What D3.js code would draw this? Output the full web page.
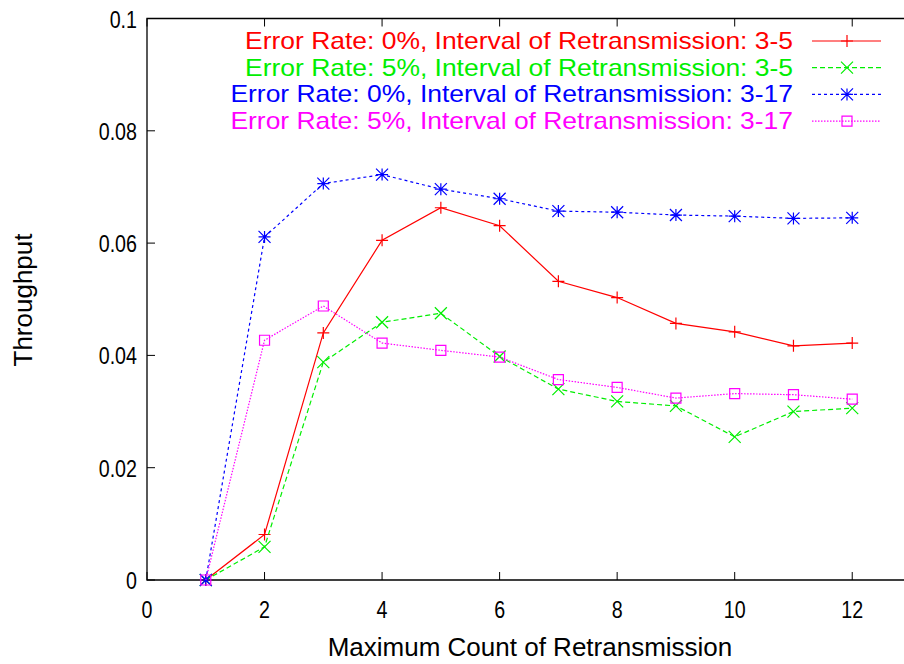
<!DOCTYPE html>
<html>
<head>
<meta charset="utf-8">
<script src="https://cdn.jsdelivr.net/npm/d3@7.9.0/dist/d3.min.js"></script>
<style>
  body { margin: 0; background: #fff; }
  svg text { font-family: "Liberation Sans", Arial, Helvetica, sans-serif; }
</style>
</head>
<body>
<svg id="chart" width="904" height="664"></svg>
<script>
// data
const counts = [1, 2, 3, 4, 5, 6, 7, 8, 9, 10, 11, 12];
const err0_int3to5  = [0, 0.0081, 0.0440, 0.0605, 0.0663, 0.0631, 0.0532, 0.0503, 0.0457, 0.0442, 0.0417, 0.0422];
const err5_int3to5  = [0, 0.0059, 0.0388, 0.0459, 0.0475, 0.0398, 0.0340, 0.0318, 0.0310, 0.0255, 0.0300, 0.0306];
const err0_int3to17 = [0, 0.0611, 0.0706, 0.0722, 0.0696, 0.0679, 0.0657, 0.0655, 0.0650, 0.0648, 0.0644, 0.0645];
const err5_int3to17 = [0, 0.0427, 0.0488, 0.0422, 0.0409, 0.0397, 0.0357, 0.0343, 0.0324, 0.0332, 0.0330, 0.0322];
const xTicks = [0, 2, 4, 6, 8, 10, 12];
const yTicks = [0, 0.02, 0.04, 0.06, 0.08, 0.1];

const series = [
  { label: 'Error Rate: 0%, Interval of Retransmission: 3-5',  values: err0_int3to5,  color: '#ff0000', dash: null,  mark: 'plus' },
  { label: 'Error Rate: 5%, Interval of Retransmission: 3-5',  values: err5_int3to5,  color: '#00ee00', dash: '5,3', mark: 'cross' },
  { label: 'Error Rate: 0%, Interval of Retransmission: 3-17', values: err0_int3to17, color: '#0000ff', dash: '3,3', mark: 'star' },
  { label: 'Error Rate: 5%, Interval of Retransmission: 3-17', values: err5_int3to17, color: '#ff00ff', dash: '1.5,1.5', mark: 'square' }
];

const svg = d3.select('#chart');
// plot runs off the right edge of the picture (x max = 13)
const x = d3.scaleLinear().domain([0, 13]).range([147, 911]);
const y = d3.scaleLinear().domain([0, 0.1]).range([580, 18.5]);

// frame
svg.append('path')
  .attr('d', `M${x(13)},${y(0.1)}H${x(0)}V${y(0)}H${x(13)}`)
  .attr('fill', 'none').attr('stroke', '#000').attr('stroke-width', 1.3);

// ticks inward + mirror on top; labels are narrow, tall digits
const tickLen = 8;
xTicks.forEach(t => {
  svg.append('line').attr('x1', x(t)).attr('x2', x(t)).attr('y1', y(0)).attr('y2', y(0) - tickLen)
    .attr('stroke', '#000');
  svg.append('line').attr('x1', x(t)).attr('x2', x(t)).attr('y1', y(0.1)).attr('y2', y(0.1) + tickLen)
    .attr('stroke', '#000');
  svg.append('text').attr('transform', `translate(${x(t)},${y(0) + 38}) scale(0.82,1)`)
    .attr('text-anchor', 'middle').attr('font-size', 24).text(t);
});
yTicks.forEach(t => {
  svg.append('line').attr('x1', x(0)).attr('x2', x(0) + tickLen).attr('y1', y(t)).attr('y2', y(t))
    .attr('stroke', '#000');
  svg.append('text').attr('transform', `translate(${x(0) - 10},${y(t) + 9}) scale(0.82,1)`)
    .attr('text-anchor', 'end').attr('font-size', 24).text(t === 0 ? '0' : d3.format('')(t));
});

// axis titles
svg.append('text').attr('x', 530).attr('y', 656).attr('text-anchor', 'middle')
  .attr('font-size', 26).text('Maximum Count of Retransmission');
svg.append('text').attr('transform', 'translate(32,300) rotate(-90)').attr('text-anchor', 'middle')
  .attr('font-size', 26).text('Throughput');

function drawMark(g, kind, cx, cy, color) {
  const s = 6;
  let d;
  if (kind === 'plus') d = `M${cx - s},${cy}H${cx + s}M${cx},${cy - s}V${cy + s}`;
  else if (kind === 'cross') d = `M${cx - s},${cy - s}L${cx + s},${cy + s}M${cx - s},${cy + s}L${cx + s},${cy - s}`;
  else if (kind === 'star') d = `M${cx - s},${cy}H${cx + s}M${cx},${cy - s}V${cy + s}M${cx - s},${cy - s}L${cx + s},${cy + s}M${cx - s},${cy + s}L${cx + s},${cy - s}`;
  else d = `M${cx - 5},${cy - 5}H${cx + 5}V${cy + 5}H${cx - 5}Z`;
  g.append('path').attr('d', d).attr('fill', 'none').attr('stroke', color).attr('stroke-width', 1.2);
}

const line = d3.line().x((d, i) => x(counts[i])).y(d => y(d));

series.forEach((s, k) => {
  const g = svg.append('g');
  g.append('path').attr('d', line(s.values))
    .attr('fill', 'none').attr('stroke', s.color).attr('stroke-width', 1.2)
    .attr('stroke-dasharray', s.dash);
  s.values.forEach((v, i) => drawMark(g, s.mark, x(counts[i]), y(v), s.color));

  // legend row, text widened a little to span like the original
  const ly = 41 + k * 26.7;
  svg.append('text').attr('transform', `translate(793,${ly + 8}) scale(1.15,1)`)
    .attr('text-anchor', 'end').attr('font-size', 23).attr('fill', s.color).text(s.label);
  svg.append('line').attr('x1', 812).attr('x2', 881).attr('y1', ly).attr('y2', ly)
    .attr('stroke', s.color).attr('stroke-width', 1.2).attr('stroke-dasharray', s.dash);
  drawMark(svg, s.mark, 847, ly, s.color);
});
</script>
</body>
</html>
